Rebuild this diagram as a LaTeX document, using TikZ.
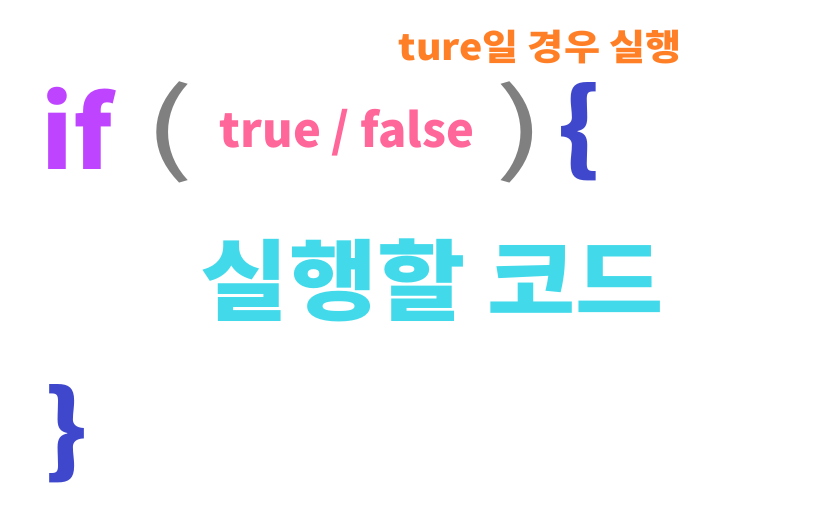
\documentclass[tikz,border=0pt]{standalone}
\usepackage{fontspec}
\setmainfont{Noto Sans CJK KR}
\definecolor{ifpurple}{HTML}{BF44FF}
\definecolor{pargray}{HTML}{808080}
\definecolor{condpink}{HTML}{FF6699}
\definecolor{braceblue}{HTML}{3F48CC}
\definecolor{noteorange}{HTML}{FF7F27}
\definecolor{codecyan}{HTML}{42DAEA}
\newcommand{\fsz}[1]{\fontsize{#1}{#1}\selectfont}
\begin{document}
\begin{tikzpicture}[x=1pt,y=-1pt,
  every node/.style={inner sep=0pt,outer sep=0pt,anchor=center},
  kw/.style={font=\fsz{99}\bfseries,text=ifpurple},
  par/.style={font=\fsz{100},text=pargray,xscale=1.55},
  brace/.style={font=\fsz{100}\bfseries,text=braceblue,xscale=1.12},
  kr/.style={font=\fsz{#1}\bfseries,xscale=1.09}]
  \useasboundingbox (0,0) rectangle (817,521);
  % if ( condition ) {
  \node[kw] (kwif) at (77.5,128) {if};
  \node[par] (lpar) at (168.5,132.5) {(};
  \node[font=\fsz{47}\bfseries,text=condpink] (cond) at (347,133) {true / false};
  \node[par] (rpar) at (521,132.5) {)};
  \node[brace] (lbrace) at (579.5,131.5) {\{};
  \node[kr=36,text=noteorange] (note) at (540,47.5) {ture일 경우 실행};
  % body
  \node[kr=88,text=codecyan] (body) at (432.5,280) {실행할 코드};
  \node[brace] (rbrace) at (66,433.5) {\}};
\end{tikzpicture}
\end{document}
